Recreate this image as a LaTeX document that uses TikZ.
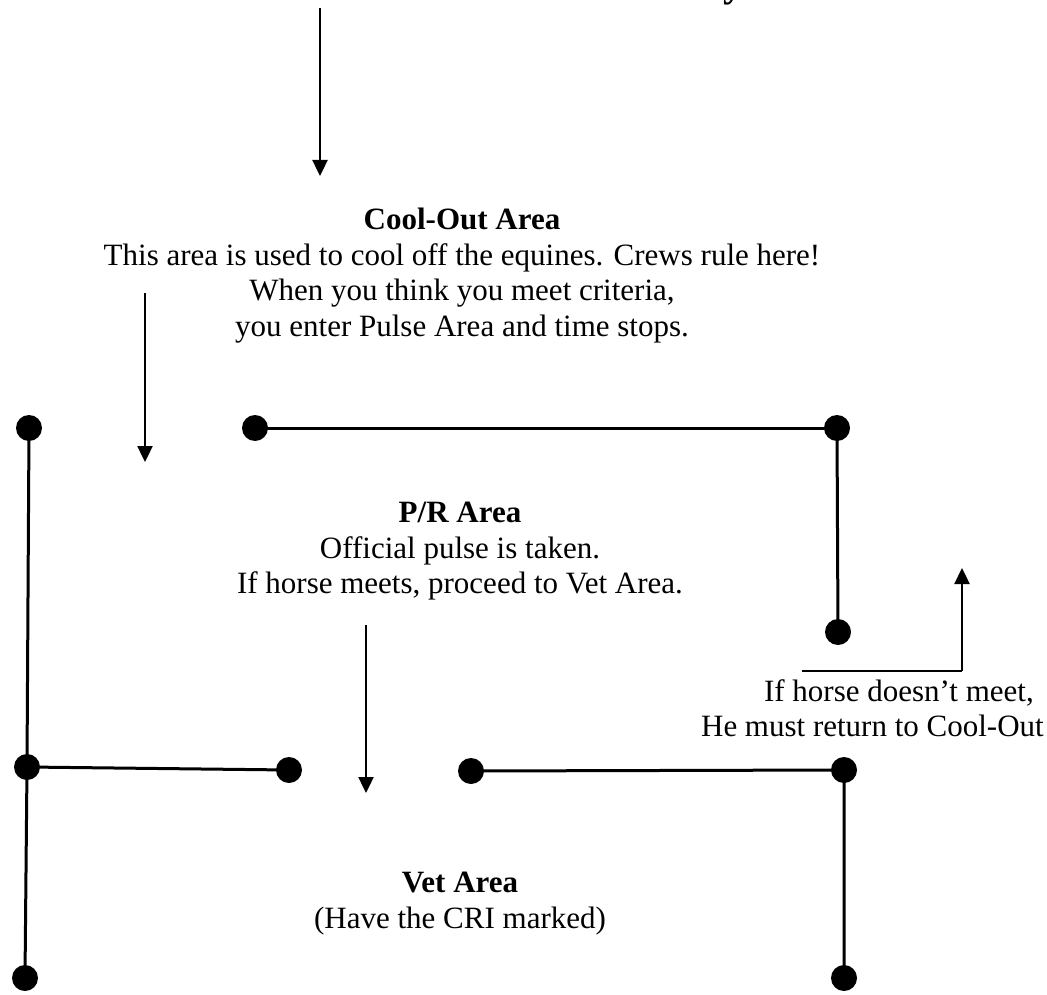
\documentclass[tikz,border=0pt]{standalone}
\usepackage{fontspec}
\setmainfont{Liberation Serif}
\usetikzlibrary{arrows.meta}
\begin{document}
\begin{tikzpicture}[x=1pt,y=-1pt,
  dot/.style={circle,fill=black,inner sep=0pt,minimum size=26pt},
  wall/.style={line width=3pt},
  flow/.style={line width=2.4pt,-{Triangle[width=15pt,length=16pt]}},
  txt/.style={align=center,font=\fontsize{31}{35.6}\selectfont,inner sep=0pt}]
\useasboundingbox (0,0) rectangle (1047,995);
\begin{scope}
\clip (0,0) rectangle (1047,995);
\node[anchor=base,font=\fontsize{40}{44}\selectfont\bfseries,inner sep=0pt] (ttl) at (733,-3) {y};
\end{scope}
% arrows
\coordinate (a1s) at (320,8);   \coordinate (a1e) at (320,176);
\coordinate (a2s) at (145,293); \coordinate (a2e) at (145,462);
\coordinate (a3s) at (366,625); \coordinate (a3e) at (366,793);
\coordinate (a4c) at (802,671); \coordinate (a4k) at (962,671); \coordinate (a4e) at (962,568);
\draw[flow] (a1s) -- (a1e);
\draw[flow] (a2s) -- (a2e);
\draw[flow] (a3s) -- (a3e);
\draw[wall,line width=2.4pt] (a4c) -- (a4k);
\draw[flow] (a4k) -- (a4e);
% dots
\node[dot] (d1) at (29,428) {};
\node[dot] (d2) at (255,428) {};
\node[dot] (d3) at (837,428) {};
\node[dot] (d4) at (838,632) {};
\node[dot] (d5) at (27,767) {};
\node[dot] (d6) at (289,770) {};
\node[dot] (d7) at (471,771) {};
\node[dot] (d8) at (844,770) {};
\node[dot] (d9) at (25,978) {};
\node[dot] (d10) at (844,978) {};
\draw[wall] (d1.center) -- (d5.center) -- (d9.center);
\draw[wall] (d5.center) -- (d6.center);
\draw[wall] (d2.center) -- (d3.center);
\draw[wall] (d3.center) -- (d4.center);
\draw[wall] (d7.center) -- (d8.center) -- (d10.center);
% texts
\node[txt,anchor=north] (cool) at (462,208) {\textbf{Cool-Out Area}\\This area is used to cool off the equines. Crews rule here!\\When you think you meet criteria,\\you enter Pulse Area and time stops.};
\node[txt,anchor=north] (pr) at (460,502) {\textbf{P/R Area}\\Official pulse is taken.\\If horse meets, proceed to Vet Area.};
\node[txt,anchor=north east,align=right] (ret) at (1044,679) {If horse doesn’t meet,\hspace*{10pt}\\He must return to Cool-Out};
\node[txt,anchor=north] (vet) at (460,872) {\textbf{Vet Area}\\(Have the CRI marked)};
\end{tikzpicture}
\end{document}
